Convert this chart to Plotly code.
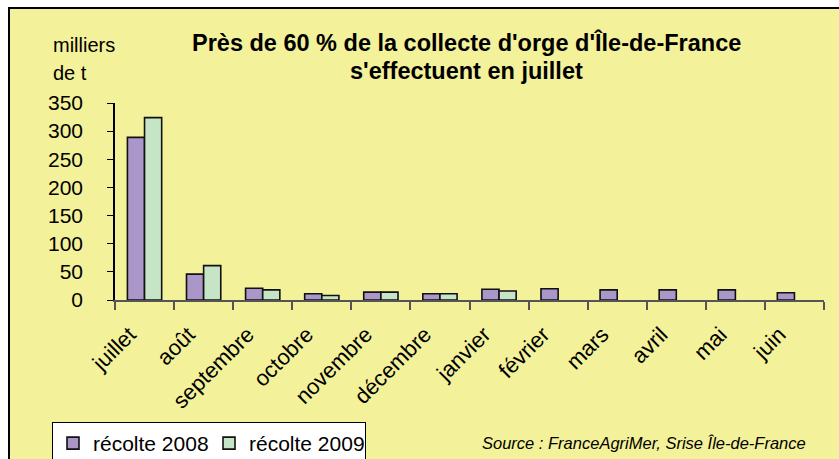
import plotly.graph_objects as go

mois = ["juillet", "août", "septembre", "octobre", "novembre", "décembre",
        "janvier", "février", "mars", "avril", "mai", "juin"]
recolte_2008 = [289, 46, 21, 11, 14, 11, 19, 20, 18, 18, 18, 13]
recolte_2009 = [324, 61, 18, 8, 14, 11, 16, None, None, None, None, None]
y_ticks = [0, 50, 100, 150, 200, 250, 300, 350]

BG = "#F3F199"
FONT = "Liberation Sans, Arial, sans-serif"

W, H = 839, 459
# plot area in page pixels
PX0, PX1, PY0, PY1 = 115, 824, 103, 300
L, T = PX0, PY0
R, B = W - PX1, H - PY1
pw, ph = PX1 - PX0, PY1 - PY0

def px(x):
    return (x - PX0) / pw

def py(y):
    return (PY1 - y) / ph

fig = go.Figure()
fig.add_trace(go.Bar(x=mois, y=recolte_2008, name="récolte 2008",
                     marker=dict(color="#AA96C8", line=dict(color="#111111", width=1.6))))
fig.add_trace(go.Bar(x=mois, y=recolte_2009, name="récolte 2009",
                     marker=dict(color="#C6E4C6", line=dict(color="#111111", width=1.6))))

fig.update_layout(
    template="none",
    width=W, height=H,
    margin=dict(l=L, r=R, t=T, b=B, pad=0, autoexpand=False),
    paper_bgcolor="white",
    plot_bgcolor="rgba(0,0,0,0)",
    barmode="group", bargap=0.42, bargroupgap=0,
    font=dict(family=FONT, color="black", size=21),
    showlegend=True,
    legend=dict(orientation="h", x=px(52), y=py(422), xanchor="left", yanchor="top",
                bgcolor="white", bordercolor="black", borderwidth=1,
                font=dict(size=21, family=FONT), itemwidth=30,
                entrywidth=111, entrywidthmode="pixels",
                tracegroupgap=0, traceorder="normal"),
    xaxis=dict(showline=True, linecolor="#555555", linewidth=2, automargin=False,
               ticks="outside", ticklen=8, tickcolor="#555555", tickwidth=2,
               tickson="boundaries", tickangle=-45, showgrid=False,
               ticklabelshift=-15, ticklabelstandoff=11,
               tickfont=dict(size=22, family=FONT)),
    yaxis=dict(range=[0, 350], tickvals=y_ticks, showline=True, linecolor="black",
               linewidth=1.5, ticks="outside", ticklen=6, tickcolor="black",
               showgrid=False, zeroline=False, ticklabelstandoff=20, automargin=False,
               tickfont=dict(size=21, family=FONT)),
)

fig.add_shape(type="rect", xref="paper", yref="paper",
              x0=px(9), y0=py(480), x1=px(870), y1=py(8),
              fillcolor=BG, line=dict(color="black", width=2), layer="below")

fig.add_annotation(text="<b>Près de 60 % de la collecte d'orge d'Île-de-France</b>",
                   xref="paper", yref="paper", x=px(466), y=py(42),
                   showarrow=False, font=dict(size=23.5, family=FONT), xanchor="center", yanchor="middle")
fig.add_annotation(text="<b>s'effectuent en juillet</b>",
                   xref="paper", yref="paper", x=px(466), y=py(71),
                   showarrow=False, font=dict(size=23.5, family=FONT), xanchor="center", yanchor="middle")
fig.add_annotation(text="milliers", xref="paper", yref="paper", x=px(51), y=py(45),
                   showarrow=False, font=dict(size=20, family=FONT), xanchor="left", yanchor="middle")
fig.add_annotation(text="de t", xref="paper", yref="paper", x=px(51), y=py(73),
                   showarrow=False, font=dict(size=20, family=FONT), xanchor="left", yanchor="middle")
fig.add_annotation(text="<i>Source : FranceAgriMer, Srise Île-de-France</i>",
                   xref="paper", yref="paper", x=px(808), y=py(443),
                   showarrow=False, font=dict(size=16.5, family=FONT), xanchor="right", yanchor="middle")

fig.write_html(
    "out.html",
    config={"displayModeBar": False},
    post_script="document.body.style.margin='0px';document.body.style.overflow='hidden';"
                "document.documentElement.style.overflow='hidden';",
)
